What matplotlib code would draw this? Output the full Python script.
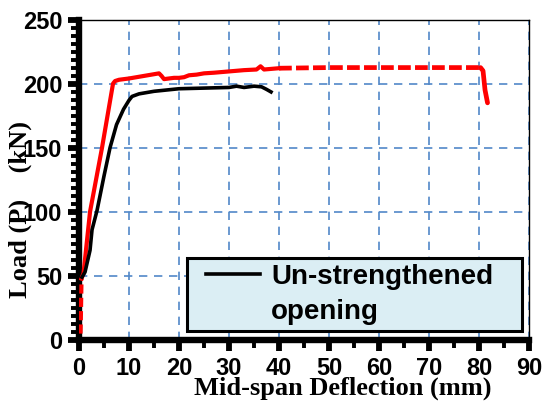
import matplotlib
matplotlib.use("Agg")
import matplotlib.pyplot as plt
from matplotlib.lines import Line2D
from matplotlib.legend_handler import HandlerLine2D
from matplotlib.ticker import MultipleLocator

# red curve: initial dashed piece, solid part, dashed plateau, final drop
red_start_x = [0.3, 0.4, 0.5]
red_start_y = [5, 25, 48]
red_x = [0.5, 0.9, 2.2, 4.6, 6.8, 7.2, 8.0, 9.0, 10.0, 11.5, 13.0, 14.5, 16.0, 16.5,
         17.0, 18.0, 19.0, 20.0, 21.0, 22.0, 23.5, 25.0, 27.0, 30.0, 33.0, 35.5, 36.3,
         37.0, 38.5, 40.0]
red_y = [48, 52, 100, 150, 200, 202, 203, 203.5, 204, 205, 206, 207, 208, 206,
         203.5, 204, 204.5, 204.5, 205, 206.5, 207, 208, 208.5, 209.5, 210.5, 211, 213.5,
         211, 211.5, 212]
red_dash_x = [40.0, 50.0, 60.0, 70.0, 80.3]
red_dash_y = [212, 212.5, 212.5, 212.5, 212.5]
red_drop_x = [80.3, 80.8, 81.2, 81.7]
red_drop_y = [212.5, 210, 195, 185]

# black curve (un-strengthened opening)
black_x = [0.6, 1.2, 2.2, 2.6, 3.6, 5.0, 6.2, 7.5, 8.9, 10.0, 10.6, 12.0, 15.0, 20.0,
           25.0, 30.0, 31.5, 33.0, 35.0, 36.5, 37.5, 38.4]
black_y = [49, 53, 70, 86, 101, 128, 150, 168, 180, 187, 190, 192, 194, 196,
           196.5, 197, 198, 197, 198, 197.5, 195.5, 193.5]

x_ticks = [0, 10, 20, 30, 40, 50, 60, 70, 80, 90]
y_ticks = [0, 50, 100, 150, 200, 250]

red = '#ff0000'
grid_blue = '#5288c8'
sans = 'Liberation Sans'
serif = 'Liberation Serif'

fig = plt.figure(figsize=(5.45, 4.03), dpi=100)
ax = fig.add_axes([0.145, 0.1563, 0.8257, 0.7953])

ax.plot(red_start_x, red_start_y, color=red, lw=3.0, dashes=(2.2, 1.0), solid_capstyle='butt', zorder=4)
ax.plot(red_x, red_y, color=red, lw=3.0, zorder=4)
ax.plot(red_dash_x, red_dash_y, color=red, lw=3.4, dashes=(2.7, 0.9), zorder=4)
ax.plot(red_drop_x, red_drop_y, color=red, lw=3.4, solid_capstyle='round', zorder=4)
black_line, = ax.plot(black_x, black_y, color='black', lw=2.6, zorder=5)

ax.set_xlim(0, 90)
ax.set_ylim(0, 250)
ax.set_xticks(x_ticks)
ax.set_yticks(y_ticks)
ax.xaxis.set_minor_locator(MultipleLocator(5))
ax.yaxis.set_minor_locator(MultipleLocator(6.25))

ax.grid(True, which='major', color=grid_blue, lw=1.2, dashes=(5, 4))
ax.set_axisbelow(True)

for side in ['left', 'bottom']:
    ax.spines[side].set_linewidth(4.6)
for side in ['top', 'right']:
    ax.spines[side].set_linewidth(1.0)

ax.tick_params(which='major', direction='out', length=8, width=4.2, pad=4,
               top=False, right=False)
ax.tick_params(which='minor', direction='out', length=6, width=2.8,
               top=False, right=False)

for lab in ax.get_xticklabels() + ax.get_yticklabels():
    lab.set_fontfamily(sans)
    lab.set_fontweight('bold')
    lab.set_fontsize(17)

leg = ax.legend(handles=[black_line, Line2D([], [], color='none')],
                labels=['Un-strengthened', 'opening'],
                handler_map={black_line: HandlerLine2D(xpad=0.46)},
                loc='lower left', bbox_to_anchor=(0.24, 0.028, 0.744, 0.228),
                mode='expand', borderaxespad=0, borderpad=0.22,
                handlelength=2.4, handletextpad=0.4, labelspacing=0.32,
                fancybox=False, framealpha=1,
                prop={'family': sans, 'weight': 'bold', 'size': 20})
leg.get_frame().set_facecolor('#dbeef4')
leg.get_frame().set_edgecolor('black')
leg.get_frame().set_linewidth(2.2)
leg.set_zorder(6)

fig.text(343 / 545, 1 - 388 / 403, 'Mid-span Deflection (mm)', family=serif,
         weight='bold', fontsize=19, ha='center', va='center')
fig.text(20 / 545, 1 - 210 / 403, 'Load (P)    (kN)', family=serif,
         weight='bold', fontsize=19, rotation=90, ha='center', va='center')

fig.savefig('out.png', dpi=100)
